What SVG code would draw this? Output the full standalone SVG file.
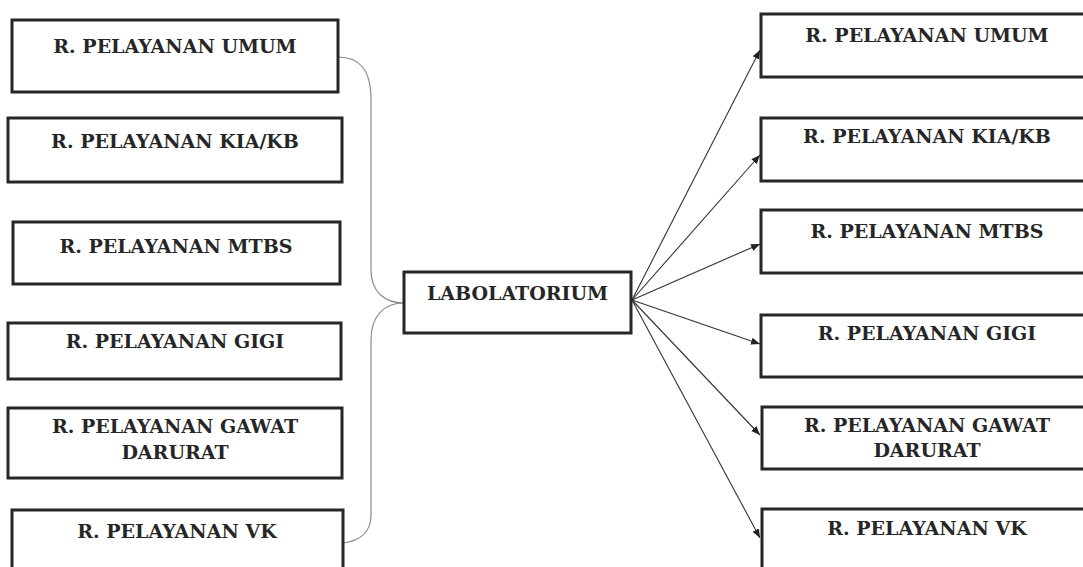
<svg xmlns="http://www.w3.org/2000/svg" width="1083" height="567" viewBox="0 0 1083 567">
<style>
.box{fill:#fff;stroke:#262626;stroke-width:3}
.t{font-family:"DejaVu Serif","Liberation Serif",serif;font-weight:bold;font-size:19px;fill:#262626;text-anchor:middle}
.br{fill:none;stroke:#8a8a8a;stroke-width:1.2}
.ar{fill:none;stroke:#333;stroke-width:1.1;marker-end:url(#ah)}
</style>
<defs>
<marker id="ah" viewBox="0 0 10 10" refX="10" refY="5" markerWidth="9" markerHeight="9" markerUnits="userSpaceOnUse" orient="auto">
<path d="M0,1 L10,5 L0,9 z" fill="#222"/>
</marker>
</defs>
<rect width="1083" height="567" fill="#fff"/>
<g id="connectors">
<path class="br" d="M338,57 C360,57 371,70 371,100 L371,270 C371,292 385,303 404,303"/>
<path class="br" d="M404,303 C385,303 371,315 371,340 L371,515 C371,532 360,541 343,543"/>
<line class="ar" x1="632" y1="300" x2="760" y2="50"/>
<line class="ar" x1="632" y1="300" x2="760" y2="155"/>
<line class="ar" x1="632" y1="300" x2="760" y2="244"/>
<line class="ar" x1="632" y1="300" x2="760" y2="344"/>
<line class="ar" x1="632" y1="300" x2="760" y2="435"/>
<line class="ar" x1="632" y1="300" x2="760" y2="538"/>
</g>
<g id="l1"><rect class="box" x="12" y="20" width="326" height="72"/><text class="t" x="175" y="53">R. PELAYANAN UMUM</text></g>
<g id="l2"><rect class="box" x="8" y="118" width="334" height="64"/><text class="t" x="175" y="148">R. PELAYANAN KIA/KB</text></g>
<g id="l3"><rect class="box" x="13" y="222" width="327" height="62"/><text class="t" x="176" y="253">R. PELAYANAN MTBS</text></g>
<g id="l4"><rect class="box" x="8" y="323" width="333" height="56"/><text class="t" x="175" y="348">R. PELAYANAN GIGI</text></g>
<g id="l5"><rect class="box" x="8" y="408" width="334" height="70"/><text class="t" x="175" y="433">R. PELAYANAN GAWAT</text><text class="t" x="175" y="459">DARURAT</text></g>
<g id="l6"><rect class="box" x="12" y="510" width="331" height="80"/><text class="t" x="177" y="538">R. PELAYANAN VK</text></g>
<g id="lab"><rect class="box" x="404" y="272" width="227" height="61"/><text class="t" x="517.5" y="300">LABOLATORIUM</text></g>
<g id="r1"><rect class="box" x="761" y="14" width="332" height="63"/><text class="t" x="927" y="42">R. PELAYANAN UMUM</text></g>
<g id="r2"><rect class="box" x="761" y="118" width="332" height="63"/><text class="t" x="927" y="143">R. PELAYANAN KIA/KB</text></g>
<g id="r3"><rect class="box" x="761" y="210" width="332" height="63"/><text class="t" x="927" y="238">R. PELAYANAN MTBS</text></g>
<g id="r4"><rect class="box" x="761" y="315" width="332" height="62"/><text class="t" x="927" y="340">R. PELAYANAN GIGI</text></g>
<g id="r5"><rect class="box" x="762" y="407" width="331" height="62"/><text class="t" x="927" y="432">R. PELAYANAN GAWAT</text><text class="t" x="927" y="457">DARURAT</text></g>
<g id="r6"><rect class="box" x="762" y="509" width="331" height="80"/><text class="t" x="927" y="535">R. PELAYANAN VK</text></g>
</svg>
